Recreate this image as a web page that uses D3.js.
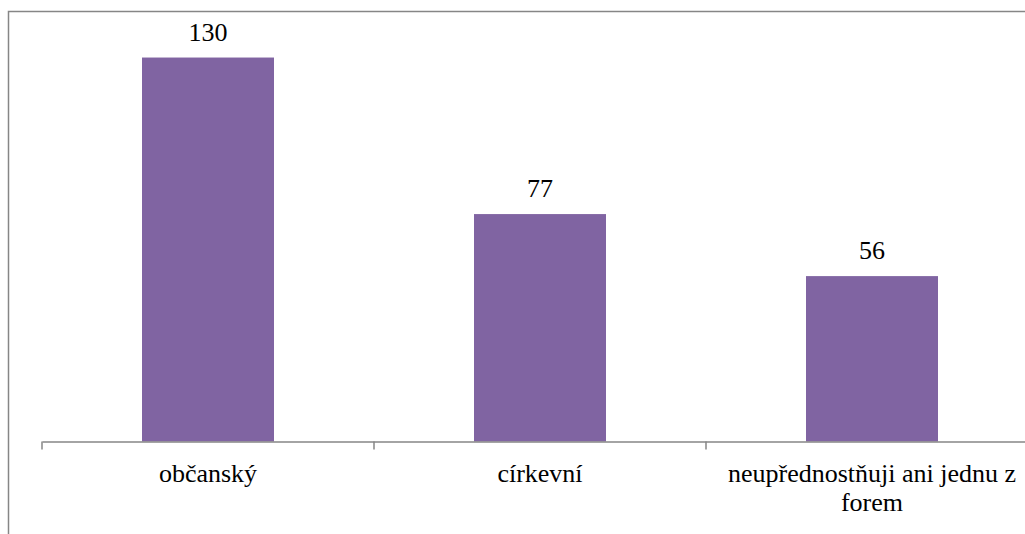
<!DOCTYPE html>
<html>
<head>
<meta charset="utf-8">
<script src="https://d3js.org/d3.v7.min.js"></script>
<style>
  body { margin: 0; background: white; }
</style>
</head>
<body>
<svg class="chart" width="1025" height="534"></svg>
<script>
const categories = ['občanský', 'církevní', 'neupřednostňuji ani jednu z forem'];
const labelLines = [['občanský'], ['církevní'], ['neupřednostňuji ani jednu z', 'forem']];
const values = [130, 77, 56];

const fontFam = "'Liberation Serif', 'Times New Roman', serif";
const fontSize = '26px';
const svg = d3.select('svg');

// chart frame (runs off the right and bottom edges)
svg.append('rect')
  .attr('x', 8.5).attr('y', 11.5)
  .attr('width', 1030).attr('height', 540)
  .attr('fill', 'none').attr('stroke', '#868686').attr('stroke-width', 1.5);

const x = d3.scaleBand().domain(categories).range([42, 1038]).paddingInner(0).paddingOuter(0);
const y = d3.scaleLinear().domain([0, 140]).range([441.5, 28]);
const barW = 132;

svg.selectAll('rect.bar')
  .data(values)
  .enter()
  .append('rect')
    .attr('class', 'bar')
    .attr('x', (d, i) => x(categories[i]) + x.bandwidth() / 2 - barW / 2)
    .attr('y', d => y(d))
    .attr('width', barW)
    .attr('height', d => y(0) - y(d))
    .attr('fill', '#8064A2');

// x axis line and ticks
const axis = svg.append('g').attr('transform', 'translate(0,' + y(0) + ')')
  .call(d3.axisBottom(x).tickSize(0).tickFormat(''));
axis.select('.domain').attr('stroke', '#868686').attr('stroke-width', 1.5);
const edges = categories.map(c => x(c)).concat([x.range()[1]]);
axis.selectAll('line.edge')
  .data(edges)
  .enter()
  .append('line')
    .attr('class', 'edge')
    .attr('x1', d => d).attr('x2', d => d)
    .attr('y1', 0).attr('y2', 8)
    .attr('stroke', '#868686').attr('stroke-width', 1.5);

// value labels
svg.selectAll('text.val')
  .data(values)
  .enter()
  .append('text')
    .attr('class', 'val')
    .attr('x', (d, i) => x(categories[i]) + x.bandwidth() / 2)
    .attr('y', d => y(d) - 17)
    .attr('text-anchor', 'middle')
    .attr('font-family', fontFam)
    .attr('font-size', fontSize)
    .attr('fill', 'black')
    .text(d => d);

// category labels
labelLines.forEach((lines, i) => {
  const t = svg.append('text')
    .attr('x', x(categories[i]) + x.bandwidth() / 2)
    .attr('y', 482)
    .attr('text-anchor', 'middle')
    .attr('font-family', fontFam)
    .attr('font-size', fontSize)
    .attr('fill', 'black');
  lines.forEach((l, j) => {
    t.append('tspan')
      .attr('x', x(categories[i]) + x.bandwidth() / 2)
      .attr('dy', j === 0 ? 0 : 29)
      .text(l);
  });
});
</script>
</body>
</html>
